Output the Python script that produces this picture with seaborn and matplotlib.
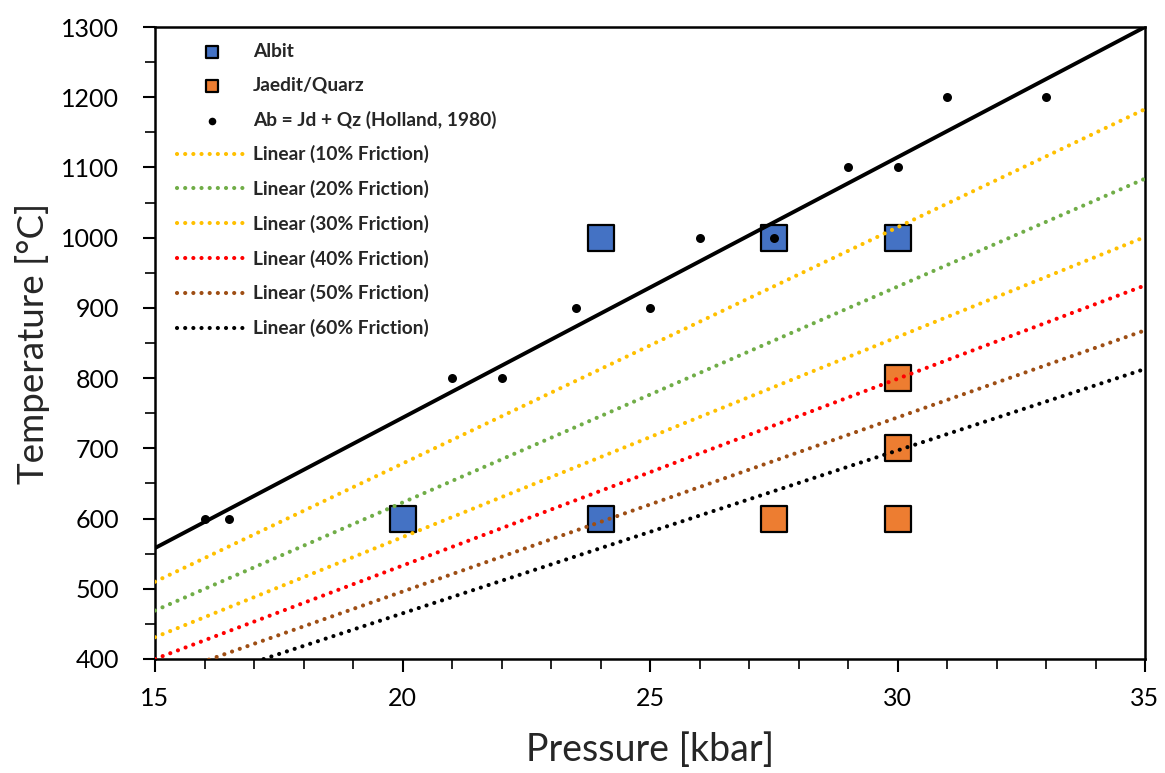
import matplotlib
matplotlib.use("Agg")
import matplotlib.pyplot as plt
import seaborn as sns
import numpy as np
import pandas as pd
from matplotlib.ticker import MultipleLocator

# ---------------- data ----------------
albit_p = [20, 24, 24, 27.5, 30]
albit_t = [600, 600, 1000, 1000, 1000]

jaedit_p = [27.5, 30, 30, 30]
jaedit_t = [600, 600, 700, 800]

holland_p = [16, 16.5, 21, 22, 23.5, 25, 26, 27.5, 29, 30, 31, 33]
holland_t = [600, 600, 800, 800, 900, 900, 1000, 1000, 1100, 1100, 1200, 1200]

# reaction line (solid black), end points
reaction_p = [15, 35]
reaction_t = [558, 1300]

# linear trend lines (friction), values at P = 15 and P = 35 kbar
trend_p = [15, 35]
trend_labels = ["Linear (10% Friction)", "Linear (20% Friction)", "Linear (30% Friction)",
                "Linear (40% Friction)", "Linear (50% Friction)", "Linear (60% Friction)"]
trend_t = [
    [510, 1183],
    [469, 1084],
    [431, 1001],
    [400, 932],
    [372, 868],
    [349, 813],
]
trend_colors = ["#FFC000", "#70AD47", "#FFC000", "#FF0000", "#9E4E14", "#000000"]

x_ticks = [15, 20, 25, 30, 35]
y_ticks = list(range(400, 1301, 100))

# ---------------- style ----------------
sns.set_theme(style="white")
plt.rcParams['font.family'] = ['Lato', 'DejaVu Sans']

fig = plt.figure(figsize=(11.65, 7.73), dpi=100)
ax = fig.add_axes([155/1165, 1-659/773, 990/1165, 632/773])

sns.scatterplot(x=albit_p, y=albit_t, marker='s', s=330, color="#4472C4",
                edgecolor="black", linewidth=1.6, label="Albit", ax=ax, zorder=2)
sns.scatterplot(x=jaedit_p, y=jaedit_t, marker='s', s=330, color="#ED7D31",
                edgecolor="black", linewidth=1.6, label="Jaedit/Quarz", ax=ax, zorder=2)
sns.lineplot(x=reaction_p, y=reaction_t, color="black", linewidth=2.8, ax=ax,
             zorder=3, label="_nolegend_")
for lab, tv, col in zip(trend_labels, trend_t, trend_colors):
    sns.lineplot(x=trend_p, y=tv, color=col, linewidth=3.0, ax=ax, zorder=3,
                 linestyle=(0, (0.01, 1.95)), dash_capstyle='round', label=lab)
sns.scatterplot(x=holland_p, y=holland_t, marker='o', s=42, color="black",
                edgecolor="black", linewidth=0, label="Ab = Jd + Qz (Holland, 1980)",
                ax=ax, zorder=4)

ax.set_xlim(15, 35)
ax.set_ylim(400, 1300)
ax.set_xticks(x_ticks)
ax.set_yticks(y_ticks)
ax.xaxis.set_minor_locator(MultipleLocator(1))
ax.yaxis.set_minor_locator(MultipleLocator(50))
ax.tick_params(axis='both', which='both', direction='out', colors='black',
               bottom=True, left=True, top=False, right=False)
ax.tick_params(axis='both', which='major', length=9, width=1.5, labelsize=18)
ax.tick_params(axis='both', which='minor', length=7, width=1.2)
ax.tick_params(axis='y', which='major', pad=17)
ax.tick_params(axis='x', which='major', pad=11)
for sp in ax.spines.values():
    sp.set_visible(True)
    sp.set_color('black')
    sp.set_linewidth(1.8)

ax.set_xlabel("Pressure [kbar]", fontsize=27, labelpad=16)
ax.set_ylabel("Temperature [°C]", fontsize=26.5, labelpad=8)

# legend ordering
handles, labels = ax.get_legend_handles_labels()
order_names = ["Albit", "Jaedit/Quarz", "Ab = Jd + Qz (Holland, 1980)"] + trend_labels
hmap = dict(zip(labels, handles))
leg = ax.legend([hmap[n] for n in order_names], order_names, loc='upper left',
                bbox_to_anchor=(12.6/990, 1 - 6.6/632), frameon=False,
                prop={'weight': 'bold', 'size': 13.8}, handlelength=3.6,
                handletextpad=0.37, labelspacing=0.87, borderaxespad=0.0,
                borderpad=0.5)
lh = leg.legend_handles
lh[0].set_sizes([80])
lh[1].set_sizes([80])
lh[2].set_sizes([30])

fig.savefig("out.png", dpi=100)
